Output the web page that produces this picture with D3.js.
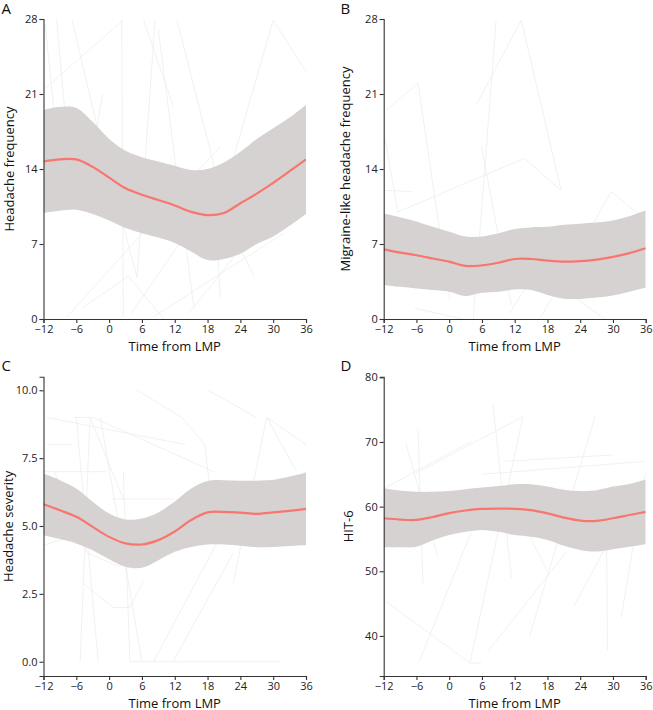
<!DOCTYPE html>
<html><head><meta charset="utf-8">
<script src="https://cdn.jsdelivr.net/npm/d3@7"></script>
<style>
body{margin:0;background:#fff;}
svg{display:block;font-family:"Open Sans",sans-serif;}
</style></head>
<body>
<svg id="c" width="653" height="710"></svg>
<script>
// ---- data ----
const timeGrid = [-12,-9,-6,-3,0,3,6,9,12,15,18,21,24,27,30,33,36];
const xTicks = [-12,-6,0,6,12,18,24,30,36];

const meanA  = [14.7,14.9,14.9,14.2,13.2,12.2,11.6,11.1,10.6,10.0,9.7,9.9,10.8,11.7,12.7,13.8,14.9];
const upperA = [19.5,19.8,19.7,18.4,16.8,15.7,15.1,14.7,14.3,13.9,14.0,14.6,15.6,16.8,17.8,18.8,20.0];
const lowerA = [9.9,10.1,10.2,9.8,9.2,8.5,8.0,7.6,7.1,6.3,5.5,5.6,6.1,7.0,7.7,8.7,9.8];

const meanB  = [6.5,6.2,5.95,5.65,5.35,4.95,5.0,5.25,5.6,5.6,5.45,5.35,5.4,5.55,5.8,6.15,6.6];
const upperB = [9.85,9.5,9.1,8.6,8.15,7.7,7.7,8.0,8.4,8.55,8.6,8.8,8.9,9.0,9.2,9.6,10.15];
const lowerB = [3.15,3.0,2.85,2.7,2.55,2.15,2.45,2.55,2.75,2.7,2.25,1.9,1.87,2.0,2.2,2.55,2.95];

const meanC  = [5.8,5.58,5.34,4.97,4.6,4.36,4.32,4.48,4.8,5.22,5.5,5.52,5.49,5.45,5.5,5.56,5.63];
const upperC = [6.93,6.69,6.38,5.89,5.46,5.24,5.28,5.5,5.9,6.38,6.66,6.69,6.67,6.67,6.7,6.82,6.96];
const lowerC = [4.66,4.52,4.36,4.11,3.78,3.5,3.46,3.74,4.05,4.23,4.32,4.32,4.27,4.22,4.23,4.26,4.3];

const meanD  = [58.2,58.0,57.95,58.4,59.0,59.4,59.65,59.7,59.65,59.45,58.95,58.3,57.85,57.8,58.2,58.7,59.2];
const upperD = [62.85,62.5,62.3,62.3,62.4,62.7,62.95,63.2,63.45,63.45,63.1,62.6,62.4,62.55,63.1,63.5,64.2];
const lowerD = [53.7,53.7,53.8,54.8,55.6,56.1,56.4,56.1,55.6,55.35,54.85,53.95,53.3,53.05,53.4,53.8,54.2];

const spagA = [
  [[-9.6,27.9],[-6.8,12.0]],
  [[-6.8,27.9],[-1.6,16.7],[5.1,3.9]],
  [[-12,21.4],[2.6,27.9]],
  [[2.3,27.9],[2.6,0.2]],
  [[6.3,27.9],[11.8,19.8]],
  [[8.4,27.9],[5.1,3.9]],
  [[12.4,27.9],[19.1,14.5],[20.3,2.0]],
  [[30.0,27.9],[36,23.1]],
  [[30.0,27.9],[22.1,13.9]],
  [[-7.7,0.2],[20.3,16.1]],
  [[8.1,0.2],[31.9,8.0]],
  [[-11.7,27.5],[-9.8,18.0]],
  [[-1.2,21.0],[-3.5,14.0]],
  [[9.0,27.0],[15.5,1.0]],
  [[4.0,0.5],[16.2,9.5]],
  [[-5.0,1.0],[3.5,4.0],[10.0,0.0]],
  [[14.5,0.5],[24.0,6.5],[26.5,4.0]]
];
const spagB = [
  [[-11.5,19.5],[-5.7,22.0],[0.1,1.8]],
  [[-9.4,10.0],[13.8,15.0],[20.5,12.0]],
  [[-11.8,17.0],[-9.4,10.0]],
  [[5.0,20.0],[13.2,27.9],[20.5,12.0]],
  [[8.6,27.9],[4.4,0.0]],
  [[5.9,16.1],[11.4,1.3]],
  [[-11.8,12.0],[-6.9,11.9]],
  [[29.7,11.9],[36,9.2]],
  [[16.6,0.0],[29.7,11.9]],
  [[-6.3,1.0],[2.5,0.0]],
  [[19.0,3.5],[28.5,0.0]],
  [[11.0,0.5],[16.0,4.5]]
];
const spagC = [
  [[-11.4,9.0],[13.9,8.0]],
  [[-11.4,8.0],[-6.8,8.0]],
  [[-12,7.0],[-0.4,7.0]],
  [[-6.5,9.0],[-2.9,9.0],[19.1,7.0]],
  [[5.1,10.0],[13.3,9.0],[17.5,8.0],[19.1,5.2]],
  [[18.1,10.0],[26.9,9.0]],
  [[-5.3,0.0],[-3.5,9.0],[2.6,6.0]],
  [[-2.0,0.0],[-6.0,9.0]],
  [[-1.6,9.0],[6.0,0.0]],
  [[3.8,0.0],[31.2,0.0]],
  [[28.8,9.0],[34.3,7.0]],
  [[22.7,2.9],[28.8,9.0]],
  [[28.8,9.0],[36,8.0]],
  [[8.1,0.0],[22.7,5.5],[36,7.0]],
  [[2.6,7.0],[3.8,0.0]],
  [[-4.8,2.9],[0.7,2.0],[3.8,2.0],[6.3,3.0]],
  [[11.7,0.0],[22.7,4.0]],
  [[-12,4.3],[0.0,5.0],[5.0,5.0]],
  [[0.5,6.0],[12.0,6.0]],
  [[-10.0,7.0],[-4.0,4.0],[2.0,3.5]]
];
const spagD = [
  [[-5.7,71.9],[-4.8,47.9]],
  [[-12,62.8],[4.1,70.1]],
  [[-6.0,65.2],[13.5,73.9]],
  [[8.0,76.0],[11.4,48.9]],
  [[10.2,67.0],[30.0,68.0]],
  [[5.9,65.0],[36,67.0]],
  [[-12,45.6],[3.8,35.8],[5.9,35.8]],
  [[3.8,35.8],[13.5,73.9]],
  [[26.7,73.9],[14.7,39.9]],
  [[28.8,58.7],[29.0,37.8]],
  [[36,65.5],[31.5,42.8]],
  [[-5.5,36.0],[4.0,56.0]],
  [[23.0,44.8],[28.5,53.5]],
  [[7.0,37.5],[21.5,53.0]],
  [[-2.0,52.0],[-8.0,70.0]],
  [[12.0,60.0],[18.0,50.0]]
];

// ---- layout ----
const svg = d3.select("#c");
const axisColor = "#333333";
const bandColor = "#d6d2d2";
const lineColor = "#F8766D";
const spagColor = "#eeeeee";

const panels = [
  {id:"A", x0:43.5, x1:306, y0:19, y1:319, ydom:[0,28], yticks:[0,7,14,21,28], fmt:d3.format("d"),
   mean:meanA, upper:upperA, lower:lowerA, spag:spagA, ylab:"Headache frequency", ylabX:13.5,
   letterX:1.5, letterY:14, xlabY:350.5},
  {id:"B", x0:383.7, x1:645.7, y0:19, y1:319, ydom:[0,28], yticks:[0,7,14,21,28], fmt:d3.format("d"),
   mean:meanB, upper:upperB, lower:lowerB, spag:spagB, ylab:"Migraine-like headache frequency", ylabX:349.5,
   letterX:340.5, letterY:14, xlabY:350.5},
  {id:"C", x0:43.5, x1:306, y0:376.7, y1:676, ydom:[-0.525,10.5], yticks:[0,2.5,5,7.5,10], fmt:d3.format(".1f"),
   mean:meanC, upper:upperC, lower:lowerC, spag:spagC, ylab:"Headache severity", ylabX:13,
   letterX:1.5, letterY:371, xlabY:707.5},
  {id:"D", x0:383.7, x1:645.7, y0:376.7, y1:676, ydom:[33.8,80.1], yticks:[40,50,60,70,80], fmt:d3.format("d"),
   mean:meanD, upper:upperD, lower:lowerD, spag:spagD, ylab:"HIT-6", ylabX:352.5,
   letterX:340.5, letterY:371, xlabY:707.5}
];

panels.forEach((p,i) => {
  const x = d3.scaleLinear().domain([-12,36]).range([p.x0,p.x1]);
  const y = d3.scaleLinear().domain(p.ydom).range([p.y1,p.y0]);
  const g = svg.append("g");
  const clipId = "clip"+p.id;
  svg.append("clipPath").attr("id",clipId).append("rect")
    .attr("x",p.x0).attr("y",p.y0).attr("width",p.x1-p.x0).attr("height",p.y1-p.y0);

  const pg = g.append("g").attr("clip-path",`url(#${clipId})`);
  const line = d3.line().x(d=>x(d[0])).y(d=>y(d[1]));
  pg.selectAll("path.spag").data(p.spag).join("path")
    .attr("class","spag").attr("d",line)
    .attr("fill","none").attr("stroke",spagColor).attr("stroke-width",0.8);

  const rows = timeGrid.map((t,k)=>({t, m:p.mean[k], u:p.upper[k], l:p.lower[k]}));
  const area = d3.area().curve(d3.curveCatmullRom)
    .x(d=>x(d.t)).y0(d=>y(d.l)).y1(d=>y(d.u));
  pg.append("path").datum(rows).attr("d",area).attr("fill",bandColor);
  const mline = d3.line().curve(d3.curveCatmullRom).x(d=>x(d.t)).y(d=>y(d.m));
  pg.append("path").datum(rows).attr("d",mline)
    .attr("fill","none").attr("stroke",lineColor).attr("stroke-width",2.2);

  // axes
  const xa = g.append("g").attr("transform",`translate(0,${p.y1})`)
    .call(d3.axisBottom(x).tickValues(xTicks).tickSize(4).tickPadding(2).tickFormat(d3.format("d")));
  const ya = g.append("g").attr("transform",`translate(${p.x0},0)`)
    .call(d3.axisLeft(y).tickValues(p.yticks).tickSize(4).tickPadding(2).tickFormat(p.fmt));
  [xa,ya].forEach(a=>{
    a.select(".domain").attr("stroke",axisColor).attr("stroke-width",1.1);
    a.selectAll(".tick line").attr("stroke",axisColor).attr("stroke-width",1.1);
    a.selectAll(".tick text").attr("fill","#222").style("font-size","11px").style("font-family","Open Sans");
  });

  g.append("text").attr("x",(p.x0+p.x1)/2).attr("y",p.xlabY)
    .attr("text-anchor","middle").style("font-size","13px").attr("fill","#111")
    .text("Time from LMP");
  g.append("text").attr("transform",`translate(${p.ylabX},${(p.y0+p.y1)/2}) rotate(-90)`)
    .attr("text-anchor","middle").style("font-size","13px").attr("fill","#111")
    .text(p.ylab);
  g.append("text").attr("x",p.letterX).attr("y",p.letterY)
    .style("font-size","15px").attr("fill","#111").text(p.id);
});
</script>
</body></html>
